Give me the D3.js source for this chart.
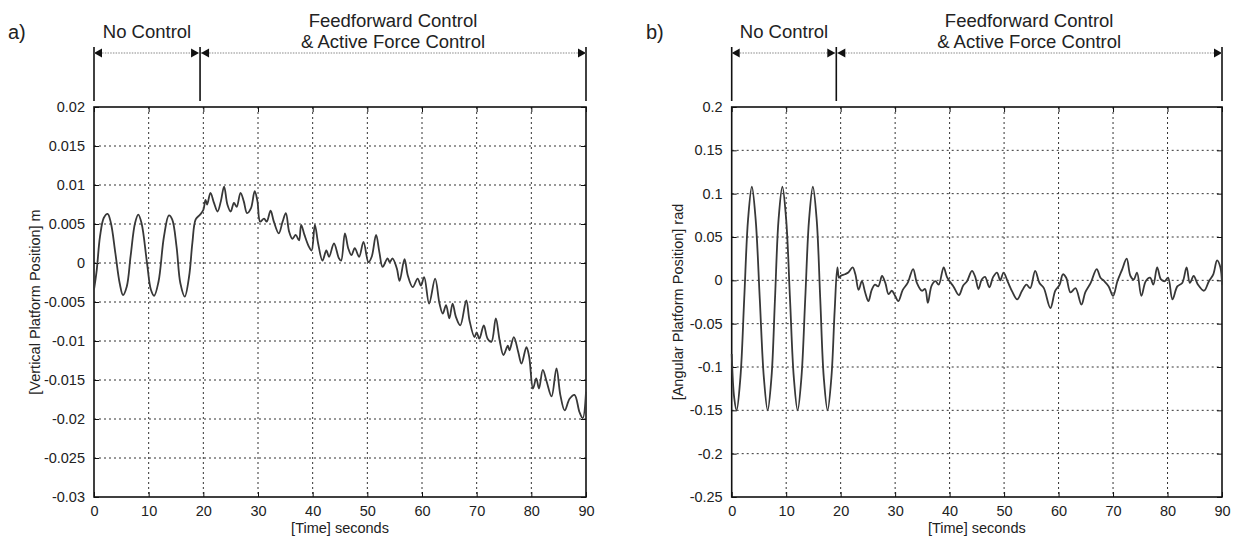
<!DOCTYPE html>
<html>
<head>
<meta charset="utf-8">
<script src="https://cdn.jsdelivr.net/npm/d3@7"></script>
<style>
  body { margin: 0; background: #fff; }
  svg { display: block; font-family: "Liberation Sans", Arial, sans-serif; }
  .grid line { stroke: #333; stroke-dasharray: 2,3; stroke-width: 1; }
</style>
</head>
<body>
<svg id="chart"></svg>
<script>
// ---- data ----
var timeTicks = [0, 10, 20, 30, 40, 50, 60, 70, 80, 90];
var aTicks = [0.02, 0.015, 0.01, 0.005, 0, -0.005, -0.01, -0.015, -0.02, -0.025, -0.03];
var bTicks = [0.2, 0.15, 0.1, 0.05, 0, -0.05, -0.1, -0.15, -0.2, -0.25];
var phaseNames = ["No Control", "Feedforward Control", "& Active Force Control"];
var aSwitch = 19.4, bSwitch = 19.2;

// panel a: vertical platform position (m)
var aTime = [0, 0.5, 1.1, 1.8, 2.5, 3.1, 3.9, 4.7, 5.3, 6.0, 6.7, 7.5, 8.1, 8.7, 9.7, 10.4, 11.0, 11.8, 12.8, 13.7,
  14.3, 15.1, 15.8, 16.6, 17.4, 18.0, 18.6, 19.4, 20.0, 20.4, 20.7, 21.3, 21.95, 22.6, 23.2, 23.8, 24.4, 25.0,
  25.6, 26.1, 26.8, 27.4, 28.0, 28.7, 29.4, 29.9, 30.4, 31.1, 31.6, 32.3, 32.9, 33.8, 34.5, 35.1, 35.7, 36.3,
  36.9, 37.5, 37.9, 38.5, 39.3, 39.8, 40.4, 41.0, 41.8, 42.5, 43.0, 43.9, 44.8, 45.2, 45.9, 46.5, 47.1, 47.7,
  48.5, 49.3, 50.2, 50.8, 51.6, 52.2, 52.8, 53.7, 54.1, 54.6, 55.4, 55.9, 56.8, 57.4, 58.3, 59.2, 59.8, 60.4,
  61.3, 62.4, 63.2, 63.8, 64.4, 65.0, 65.6, 66.2, 67.0, 68.1, 68.7, 69.6, 70.0, 70.5, 71.3, 72.0, 72.7, 73.5,
  74.2, 74.9, 75.7, 76.0, 76.8, 77.6, 78.2, 79.1, 79.6, 80.3, 80.9, 81.4, 82.1, 82.8, 83.7, 84.6, 85.3, 86.1,
  87.0, 87.9, 88.8, 89.4, 90.0];
var aValue = [-0.0034, -0.0009, 0.0034, 0.0058, 0.0063, 0.0051, 0.0013, -0.0026, -0.0041, -0.0030, 0.0009, 0.0051,
  0.0062, 0.0051, 0.0000, -0.0034, -0.0042, -0.0024, 0.0034, 0.0061, 0.0056, 0.0021, -0.0026, -0.0043, -0.0017,
  0.0026, 0.0056, 0.0062, 0.0068, 0.0081, 0.0075, 0.0090, 0.0077, 0.0066, 0.0079, 0.0098, 0.0075, 0.0066, 0.0077,
  0.0072, 0.0090, 0.0079, 0.0064, 0.0070, 0.0092, 0.0079, 0.0053, 0.0057, 0.0053, 0.0067, 0.0053, 0.0038, 0.0053,
  0.0064, 0.0040, 0.0031, 0.0036, 0.0029, 0.0049, 0.0036, 0.0021, 0.0016, 0.0049, 0.0025, 0.0003, 0.0016, 0.0008,
  0.0025, 0.0006, 0.0003, 0.0038, 0.0019, 0.0010, 0.0019, 0.0008, 0.0027, 0.0001, 0.0008, 0.0036, 0.0014, -0.0005,
  0.0006, 0.0001, 0.0006, -0.0007, -0.0023, 0.0005, -0.0016, -0.0031, -0.0020, -0.0029, -0.0018, -0.0052, -0.0020,
  -0.0052, -0.0065, -0.0054, -0.0071, -0.0052, -0.0069, -0.0080, -0.0048, -0.0074, -0.0095, -0.0089, -0.0097,
  -0.0080, -0.0097, -0.0101, -0.0071, -0.0099, -0.0118, -0.0106, -0.0112, -0.0095, -0.0114, -0.0129, -0.0108,
  -0.0120, -0.0161, -0.0148, -0.0161, -0.0137, -0.0152, -0.0171, -0.0135, -0.0169, -0.0189, -0.0174, -0.0169,
  -0.0191, -0.0199, -0.0165];

// panel b: angular platform position (rad)
var bTime = [0, 0.45, 0.9, 1.6, 2.3, 3.0, 3.7, 4.4, 5.15, 5.9, 6.6, 7.3, 7.95, 8.6, 9.3, 10.0, 10.7, 11.4, 12.1,
  12.8, 13.5, 14.2, 14.9, 15.6, 16.25, 16.9, 17.6, 18.3, 18.9, 19.4, 19.7, 20.0, 20.8, 21.4, 22.2, 22.7, 23.3,
  23.9, 24.5, 25.1, 25.7, 26.3, 26.9, 27.6, 28.2, 28.8, 29.4, 30.0, 30.6, 31.4, 32.3, 33.3, 34.0, 34.9, 35.5,
  36.0, 36.7, 37.4, 38.0, 38.9, 39.5, 40.1, 40.7, 41.7, 42.5, 43.2, 44.1, 44.7, 45.3, 45.9, 46.5, 47.3, 48.0,
  48.7, 49.3, 49.9, 50.7, 51.5, 52.4, 53.3, 54.1, 54.8, 55.7, 56.5, 57.3, 58.5, 59.4, 60.2, 60.8, 61.4, 62.2,
  63.1, 64.2, 64.9, 65.9, 67.0, 67.7, 68.4, 69.2, 70.0, 70.8, 71.7, 72.5, 73.2, 73.8, 74.4, 75.2, 76.0, 76.8,
  77.4, 78.1, 78.8, 79.5, 80.1, 80.9, 81.8, 82.7, 83.5, 84.1, 84.8, 85.6, 86.7, 87.6, 88.4, 89.1, 89.7, 90.0];
var bValue = [-0.085, -0.135, -0.150, -0.112, -0.021, 0.070, 0.108, 0.070, -0.021, -0.112, -0.150, -0.112, -0.021,
  0.070, 0.108, 0.070, -0.021, -0.112, -0.150, -0.112, -0.021, 0.070, 0.108, 0.070, -0.021, -0.112, -0.150, -0.112,
  -0.035, 0.015, 0.003, 0.005, 0.007, 0.009, 0.015, 0.007, -0.011, -0.001, -0.014, -0.024, -0.011, -0.005, -0.007,
  0.005, -0.003, -0.016, -0.012, -0.018, -0.024, -0.011, -0.003, 0.013, -0.003, -0.012, -0.010, -0.026, -0.006,
  -0.001, -0.005, 0.015, 0.004, -0.002, -0.007, -0.017, -0.006, -0.001, 0.011, 0.004, -0.010, 0.001, 0.004, -0.008,
  0.004, 0.009, 0.000, 0.009, -0.002, -0.013, -0.022, -0.012, -0.005, -0.009, 0.011, -0.003, -0.009, -0.032, -0.012,
  -0.005, 0.007, 0.003, -0.014, -0.009, -0.028, -0.014, -0.003, 0.013, 0.003, -0.001, -0.007, -0.018, -0.001, 0.013,
  0.025, 0.005, 0.001, 0.009, -0.018, -0.001, 0.003, -0.005, 0.015, 0.001, -0.001, 0.003, -0.022, -0.007, -0.003,
  0.015, -0.003, 0.005, -0.005, -0.012, -0.001, 0.007, 0.023, 0.015, -0.005];

var width = 1235, height = 539;
var svg = d3.select("#chart").attr("width", width).attr("height", height);
svg.append("rect").attr("width", width).attr("height", height).attr("fill", "#fff");

function drawPanel(p) {
  var x = d3.scaleLinear().domain([0, 90]).range([p.left, p.right]);
  var y = d3.scaleLinear().domain(p.yDomain).range([497, 107]);
  var g = svg.append("g");

  // grid
  var grid = g.append("g").attr("class", "grid");
  grid.selectAll(".vx").data(timeTicks.slice(1, -1)).enter().append("line")
    .attr("x1", function (d) { return x(d); }).attr("x2", function (d) { return x(d); })
    .attr("y1", y.range()[1]).attr("y2", y.range()[0]);
  grid.selectAll(".hy").data(p.ticks.filter(function (d) { return d > p.yDomain[0] && d < p.yDomain[1]; }))
    .enter().append("line")
    .attr("x1", p.left).attr("x2", p.right)
    .attr("y1", function (d) { return y(d); }).attr("y2", function (d) { return y(d); });

  // axes (matlab style, ticks inside on all sides)
  var tickLen = 5;
  g.append("g").attr("transform", "translate(0,497)")
    .call(d3.axisBottom(x).tickValues(timeTicks).tickSizeInner(-tickLen).tickSizeOuter(0).tickPadding(9)
      .tickFormat(d3.format("d")));
  g.append("g").attr("transform", "translate(0,107)")
    .call(d3.axisTop(x).tickValues(timeTicks).tickSizeInner(-tickLen).tickSizeOuter(0).tickFormat(""));
  g.append("g").attr("transform", "translate(" + p.left + ",0)")
    .call(d3.axisLeft(y).tickValues(p.ticks).tickSizeInner(-tickLen).tickSizeOuter(0).tickPadding(9)
      .tickFormat(function (d) { return d === 0 ? "0" : String(+d.toFixed(3)); }));
  g.append("g").attr("transform", "translate(" + p.right + ",0)")
    .call(d3.axisRight(y).tickValues(p.ticks).tickSizeInner(-tickLen).tickSizeOuter(0).tickFormat(""));
  g.selectAll(".domain").remove();
  g.selectAll(".tick line").attr("stroke", "#111");
  g.selectAll(".tick text").style("font-size", "14.5px")
    .style("font-family", "'Liberation Sans', Arial, sans-serif").attr("fill", "#222");

  g.append("rect").attr("x", p.left).attr("y", 107).attr("width", p.right - p.left).attr("height", 390)
    .attr("fill", "none").attr("stroke", "#111").attr("stroke-width", 1.6);

  // series
  var line = d3.line()
    .x(function (d) { return x(d[0]); })
    .y(function (d) { return y(d[1]); })
    .curve(d3.curveCatmullRom.alpha(0.5));
  g.append("path").datum(d3.zip(p.time, p.value))
    .attr("d", line).attr("fill", "none").attr("stroke", "#383838").attr("stroke-width", 1.8)
    .attr("stroke-linejoin", "round");

  // axis titles
  g.append("text").attr("x", (p.left + p.right) / 2).attr("y", 533).attr("text-anchor", "middle")
    .attr("font-size", "14.5px").attr("fill", "#222").text("[Time] seconds");
  g.append("text").attr("transform", "translate(" + p.yLabelX + ",302)rotate(-90)").attr("text-anchor", "middle")
    .attr("font-size", "14.5px").attr("fill", "#222").text(p.yLabel);

  // phase annotation
  var xs = [x(0), x(p.switchT), x(90)];
  g.selectAll(".bracket").data(xs).enter().append("line")
    .attr("x1", function (d) { return d; }).attr("x2", function (d) { return d; })
    .attr("y1", 47).attr("y2", 101).attr("stroke", "#111").attr("stroke-width", 1.6);
  var arrowY = 53;
  var spans = [[xs[0], xs[1] - 1], [xs[1] + 1, xs[2]]];
  spans.forEach(function (s) {
    g.append("line").attr("x1", s[0]).attr("x2", s[1]).attr("y1", arrowY).attr("y2", arrowY)
      .attr("stroke", "#888").attr("stroke-width", 1.2).attr("stroke-dasharray", "1.5,1.2");
    g.append("path").attr("d", "M" + s[0] + "," + arrowY + "l8,-4.5v9z").attr("fill", "#111");
    g.append("path").attr("d", "M" + s[1] + "," + arrowY + "l-8,-4.5v9z").attr("fill", "#111");
  });
  g.append("text").attr("x", (xs[0] + xs[1]) / 2).attr("y", 38).attr("text-anchor", "middle")
    .attr("font-size", "18.5px").attr("fill", "#222").text(phaseNames[0]);
  g.append("text").attr("x", (xs[1] + xs[2]) / 2).attr("y", 27).attr("text-anchor", "middle")
    .attr("font-size", "18.5px").attr("fill", "#222").text(phaseNames[1]);
  g.append("text").attr("x", (xs[1] + xs[2]) / 2).attr("y", 48).attr("text-anchor", "middle")
    .attr("font-size", "18.5px").attr("fill", "#222").text(phaseNames[2]);
  g.append("text").attr("x", p.tagX).attr("y", 39).attr("font-size", "20px").attr("fill", "#222").text(p.tag);
}

drawPanel({ left: 94, right: 586, yDomain: [-0.03, 0.02], ticks: aTicks, time: aTime, value: aValue,
  switchT: aSwitch, yLabel: "[Vertical Platform Position] m", yLabelX: 40, tag: "a)", tagX: 8 });
drawPanel({ left: 731.7, right: 1222, yDomain: [-0.25, 0.2], ticks: bTicks, time: bTime, value: bValue,
  switchT: bSwitch, yLabel: "[Angular Platform Position] rad", yLabelX: 683, tag: "b)", tagX: 646 });
</script>
</body>
</html>
